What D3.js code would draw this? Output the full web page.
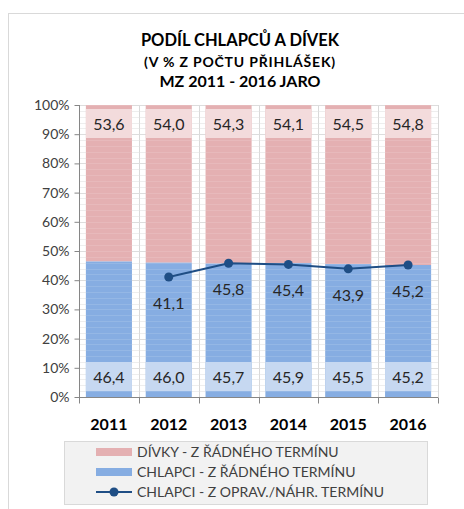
<!DOCTYPE html>
<html><head><meta charset="utf-8">
<script src="https://cdn.jsdelivr.net/npm/d3@7"></script>
<style>body{margin:0;background:#fff}svg{display:block}text{font-family:Lato,"Open Sans",sans-serif}</style>
</head><body><svg id="c" width="464" height="509"></svg>
<script>
const years = ["2011","2012","2013","2014","2015","2016"];
const divky = [53.6, 54.0, 54.3, 54.1, 54.5, 54.8];
const chlapci = [46.4, 46.0, 45.7, 45.9, 45.5, 45.2];
const opravYears = ["2012","2013","2014","2015","2016"];
const opravValues = [41.1, 45.8, 45.4, 43.9, 45.2];
const yTicks = [0,10,20,30,40,50,60,70,80,90,100];
const legendLabels = ["DÍVKY - Z ŘÁDNÉHO TERMÍNU","CHLAPCI - Z ŘÁDNÉHO TERMÍNU","CHLAPCI - Z OPRAV./NÁHR. TERMÍNU"];
const fmt = v => v.toFixed(1).replace(".", ",");

const svg = d3.select("#c");
const L = 79, R = 438, T = 105, B = 397;
const x = d3.scaleBand().domain(years).range([L, R]).padding(0);
const y = d3.scaleLinear().domain([0, 100]).range([B, T]);
const bw = x.bandwidth() * 0.77;
const cx = d => x(d) + x.bandwidth() / 2;

// outer frame
svg.append("rect").attr("x", 8.5).attr("y", 13.5).attr("width", 470).attr("height", 520)
  .attr("fill", "#fff").attr("stroke", "#d9d9d9");

// title
const t = svg.append("g").attr("text-anchor", "middle").attr("font-weight", "bold").attr("fill", "#000");
t.append("text").attr("x", 240).attr("y", 46).attr("font-size", 16.5).text("PODÍL CHLAPCŮ A DÍVEK");
t.append("text").attr("x", 240).attr("y", 66.5).attr("font-size", 14).attr("letter-spacing", 0.8).text("(V % Z POČTU PŘIHLÁŠEK)");
t.append("text").attr("x", 240).attr("y", 87).attr("font-size", 16).text("MZ 2011 - 2016 JARO");

// minor gridlines
const minor = d3.range(0, 101, 2);
svg.append("g").selectAll("line").data(minor).join("line")
  .attr("x1", L).attr("x2", R).attr("y1", d => Math.round(y(d)) + 0.5).attr("y2", d => Math.round(y(d)) + 0.5)
  .attr("stroke", "#ececec");
// vertical gridlines
svg.append("g").selectAll("line").data(d3.range(1, years.length + 1)).join("line")
  .attr("x1", i => Math.round(L + i * x.bandwidth()) + 0.5).attr("x2", i => Math.round(L + i * x.bandwidth()) + 0.5)
  .attr("y1", T).attr("y2", B).attr("stroke", "#d9d9d9");
svg.append("g").selectAll("line").data(d3.range(0, years.length)).join("line")
  .attr("x1", i => Math.round(L + i * x.bandwidth()) + 7.5).attr("x2", i => Math.round(L + i * x.bandwidth()) + 7.5)
  .attr("y1", T).attr("y2", B).attr("stroke", "#ececec");
// major gridlines
svg.append("g").selectAll("line").data(yTicks).join("line")
  .attr("x1", L).attr("x2", R).attr("y1", d => Math.round(y(d)) + 0.5).attr("y2", d => Math.round(y(d)) + 0.5)
  .attr("stroke", "#d9d9d9");

// bars
const bars = svg.append("g");
years.forEach((yr, i) => {
  const bx = cx(yr) - bw / 2;
  bars.append("rect").attr("x", bx).attr("width", bw)
    .attr("y", y(100)).attr("height", y(chlapci[i]) - y(100)).attr("fill", "#e4b0b2");
  bars.append("rect").attr("x", bx).attr("width", bw)
    .attr("y", y(chlapci[i])).attr("height", y(0) - y(chlapci[i])).attr("fill", "#86ade2");
});
// faint minor lines through bars
svg.append("g").selectAll("line").data(minor).join("line")
  .attr("x1", L).attr("x2", R).attr("y1", d => Math.round(y(d)) + 0.5).attr("y2", d => Math.round(y(d)) + 0.5)
  .attr("stroke", "#ffffff").attr("stroke-opacity", 0.12);

// label boxes
const lab = svg.append("g");
years.forEach((yr, i) => {
  const bx = cx(yr) - bw / 2;
  lab.append("rect").attr("x", bx).attr("width", bw).attr("y", y(100) + 4).attr("height", 29)
    .attr("fill", "#f3dbdc");
  lab.append("text").attr("x", cx(yr)).attr("y", y(100) + 24.5).attr("text-anchor", "middle")
    .attr("font-size", 16).attr("fill", "#262626").text(fmt(divky[i]));
  lab.append("rect").attr("x", bx).attr("width", bw).attr("y", y(0) - 35).attr("height", 29)
    .attr("fill", "#c6d8f1");
  lab.append("text").attr("x", cx(yr)).attr("y", y(0) - 14.5).attr("text-anchor", "middle")
    .attr("font-size", 16).attr("fill", "#262626").text(fmt(chlapci[i]));
});

// axes
const ya = svg.append("g").attr("transform", `translate(${L + 0.5},0)`)
  .call(d3.axisLeft(y).tickValues(yTicks).tickFormat(d => d + "%").tickSize(5).tickPadding(5));
ya.select(".domain").attr("stroke", "#868686").attr("d", `M0,${T}V${B}`);
ya.selectAll(".tick line").attr("stroke", "#868686");
ya.selectAll(".tick text").attr("font-size", 14).attr("fill", "#404040").attr("font-family", "Lato,sans-serif");

const xa = svg.append("g").attr("transform", `translate(0,${B + 0.5})`);
xa.append("line").attr("x1", L).attr("x2", R).attr("stroke", "#868686");
xa.selectAll(".tk").data(d3.range(0, years.length + 1)).join("line")
  .attr("x1", i => Math.round(L + i * x.bandwidth()) + 0.5).attr("x2", i => Math.round(L + i * x.bandwidth()) + 0.5)
  .attr("y1", 0).attr("y2", 6).attr("stroke", "#868686");
xa.selectAll("text").data(years).join("text")
  .attr("x", d => cx(d)).attr("y", 32).attr("text-anchor", "middle")
  .attr("font-size", 16).attr("font-weight", "bold").attr("fill", "#000").text(d => d);

// line series
const line = d3.line().x((d, i) => cx(opravYears[i])).y(d => y(d));
svg.append("path").datum(opravValues).attr("d", line).attr("fill", "none")
  .attr("stroke", "#1f4e85").attr("stroke-width", 2);
svg.append("g").selectAll("circle").data(opravValues).join("circle")
  .attr("cx", (d, i) => cx(opravYears[i])).attr("cy", d => y(d)).attr("r", 4.5).attr("fill", "#1f4e85");
svg.append("g").selectAll("text").data(opravValues).join("text")
  .attr("x", (d, i) => cx(opravYears[i])).attr("y", d => y(d) + 32).attr("text-anchor", "middle")
  .attr("font-size", 16).attr("fill", "#262626").text(d => fmt(d));

// legend
const lg = svg.append("g");
lg.append("rect").attr("x", 64.5).attr("y", 441.5).attr("width", 363).attr("height", 63)
  .attr("fill", "#f2f2f2").attr("stroke", "#d9d9d9");
const colors = ["#e4b0b2", "#86ade2"];
legendLabels.forEach((lbl, i) => {
  const yy = 452 + i * 20;
  if (i < 2) {
    lg.append("rect").attr("x", 96).attr("y", yy - 4).attr("width", 36).attr("height", 8).attr("fill", colors[i]);
  } else {
    lg.append("line").attr("x1", 96).attr("x2", 132).attr("y1", yy).attr("y2", yy).attr("stroke", "#1f4e85").attr("stroke-width", 2);
    lg.append("circle").attr("cx", 114).attr("cy", yy).attr("r", 4.5).attr("fill", "#1f4e85");
  }
  lg.append("text").attr("x", 137).attr("y", yy + 5).attr("font-size", 14).attr("fill", "#404040").text(lbl);
});
</script></body></html>
